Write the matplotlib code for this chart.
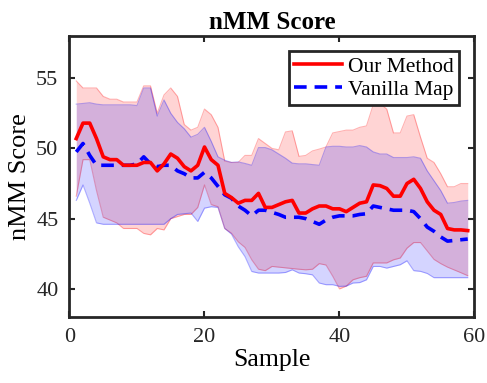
import matplotlib
matplotlib.use("Agg")
import matplotlib.pyplot as plt
import numpy as np

samples = list(range(1, 60))

our_mean = [50.7, 51.8, 51.8, 50.7, 49.4, 49.2, 49.2, 48.8, 48.8, 48.8,
            49.0, 49.0, 48.4, 48.9, 49.6, 49.3, 48.7, 48.4, 48.8, 50.1,
            49.2, 48.8, 46.8, 46.5, 46.1, 46.3, 46.3, 46.8, 45.8, 45.8,
            46.0, 46.2, 46.3, 45.4, 45.4, 45.7, 45.9, 45.9, 45.7, 45.7,
            45.5, 45.8, 46.1, 46.2, 47.4, 47.35, 47.15, 46.6, 46.6, 47.5,
            47.8, 47.15, 46.2, 45.6, 45.3, 44.3, 44.2, 44.2, 44.15]

vanilla_mean = [49.75, 50.35, 49.5, 48.8, 48.8, 48.8, 48.8, 48.8, 48.8, 48.9,
                49.4, 48.9, 48.7, 48.8, 48.8, 48.4, 48.2, 47.9, 47.9, 48.3,
                47.9, 47.3, 46.7, 46.45, 45.9, 45.6, 45.2, 45.6, 45.6, 45.45,
                45.3, 45.1, 45.1, 45.1, 45.0, 44.8, 44.6, 44.9, 45.1, 45.2,
                45.2, 45.2, 45.3, 45.35, 45.9, 45.8, 45.7, 45.6, 45.6, 45.6,
                45.5, 45.0, 44.4, 44.1, 43.7, 43.4, 43.45, 43.5, 43.55]

our_upper = [54.8, 54.3, 54.3, 54.3, 53.7, 53.5, 53.5, 53.3, 53.3, 53.3,
             54.45, 54.45, 52.5, 53.8, 54.3, 53.7, 51.7, 51.3, 51.5, 52.8,
             52.4, 51.5, 49.1, 49.0, 49.0, 49.5, 49.5, 50.7, 50.35, 50.0,
             49.9, 51.17, 51.25, 49.43, 49.5, 49.82, 49.95, 50.1, 51.1, 51.2,
             51.3, 51.3, 51.5, 51.6, 53.1, 53.2, 52.8, 51.1, 51.1, 52.3,
             52.4, 50.8, 49.3, 49.0, 48.2, 47.27, 47.27, 47.5, 47.5]

our_lower = [46.6, 49.2, 49.2, 47.0, 45.1, 44.9, 44.7, 44.3, 44.3, 44.3,
             43.95, 43.85, 44.3, 44.2, 45.0, 45.15, 45.3, 45.3, 45.8, 47.4,
             46.0, 45.85, 44.3, 43.96, 43.35, 42.95, 42.07, 41.4, 41.3, 41.6,
             41.55, 41.5, 41.45, 41.4, 41.36, 41.4, 41.8, 41.7, 40.9, 40.0,
             40.2, 40.65, 40.8, 40.9, 41.85, 41.85, 41.85, 42.07, 42.2, 42.9,
             43.3, 43.3, 42.7, 42.1, 41.8, 41.55, 41.35, 41.15, 40.94]

vanilla_upper = [53.15, 53.2, 53.25, 53.15, 53.1, 53.1, 53.1, 53.1, 53.1, 53.05,
                 54.3, 54.3, 52.3, 53.45, 52.5, 51.85, 51.4, 50.8, 51.0, 51.5,
                 50.5, 49.4, 49.16, 49.0, 49.04, 48.93, 48.8, 50.06, 50.06, 49.9,
                 49.6, 49.3, 48.95, 48.9, 48.9, 48.85, 48.8, 50.1, 50.15, 50.15,
                 50.1, 50.1, 50.2, 50.1, 49.75, 49.6, 49.6, 49.35, 49.35, 49.35,
                 49.4, 49.3, 48.4, 47.7, 47.0, 46.1, 46.15, 46.25, 46.3]

vanilla_lower = [46.3, 47.4, 46.1, 44.7, 44.6, 44.6, 44.6, 44.6, 44.6, 44.6,
                 44.6, 44.6, 44.6, 44.6, 45.0, 45.3, 45.35, 45.4, 44.8, 45.75,
                 45.85, 45.8, 44.3, 43.9, 43.0, 42.3, 41.24, 41.13, 41.13, 41.13,
                 41.13, 41.17, 41.36, 41.13, 41.08, 41.0, 40.42, 40.3, 40.3, 40.18,
                 40.2, 40.42, 40.45, 40.65, 41.6, 41.6, 41.48, 41.6, 41.72, 42.0,
                 41.3, 41.25, 41.1, 40.8, 40.8, 40.8, 40.8, 40.8, 40.8]

x_ticks = [0, 20, 40, 60]
y_ticks = [40, 45, 50, 55]

plt.rcParams['font.family'] = ['Liberation Serif', 'DejaVu Serif']

fig = plt.figure(figsize=(4.87, 3.83), dpi=100)
ax = fig.add_axes([0.1427, 0.1723, 0.8316, 0.7337])

x = np.array(samples)
ax.fill_between(x, our_lower, our_upper, color=(1, 0, 0), alpha=0.17, linewidth=0, zorder=1)
ax.plot(x, our_upper, color=(1, 0, 0), alpha=0.3, lw=0.8, zorder=1.5)
ax.plot(x, our_lower, color=(1, 0, 0), alpha=0.3, lw=0.8, zorder=1.5)
ax.fill_between(x, vanilla_lower, vanilla_upper, color=(0, 0, 1), alpha=0.17, linewidth=0, zorder=2)
ax.plot(x, vanilla_upper, color=(0, 0, 1), alpha=0.3, lw=0.8, zorder=2.5)
ax.plot(x, vanilla_lower, color=(0, 0, 1), alpha=0.3, lw=0.8, zorder=2.5)

ax.plot(x, our_mean, color='red', lw=2.6, label='Our Method', zorder=4)
ax.plot(x, vanilla_mean, color='blue', lw=2.6, ls=(0, (3.5, 2.2)), label='Vanilla Map', zorder=3)

ax.set_xlim(0, 60)
ax.set_ylim(38, 58)
ax.set_xticks(x_ticks)
ax.set_yticks(y_ticks)
ax.tick_params(direction='in', length=4, width=1.5, labelsize=16, top=True, right=True, colors='#262626', pad=8)
for s in ax.spines.values():
    s.set_linewidth(2)
    s.set_color('#262626')

ax.set_title('nMM Score', fontsize=18, fontweight='bold', pad=5)
ax.set_xlabel('Sample', fontsize=18.5, labelpad=1)
ax.set_ylabel('nMM Score', fontsize=19, labelpad=4)

leg = ax.legend(loc='upper right', fontsize=15.5, frameon=True, fancybox=False,
                edgecolor='#262626', framealpha=1, handlelength=2.2, handletextpad=0.3,
                borderpad=0.25, labelspacing=0.15, borderaxespad=0.7)
leg.get_frame().set_linewidth(2)

fig.savefig('out.png', dpi=100)
